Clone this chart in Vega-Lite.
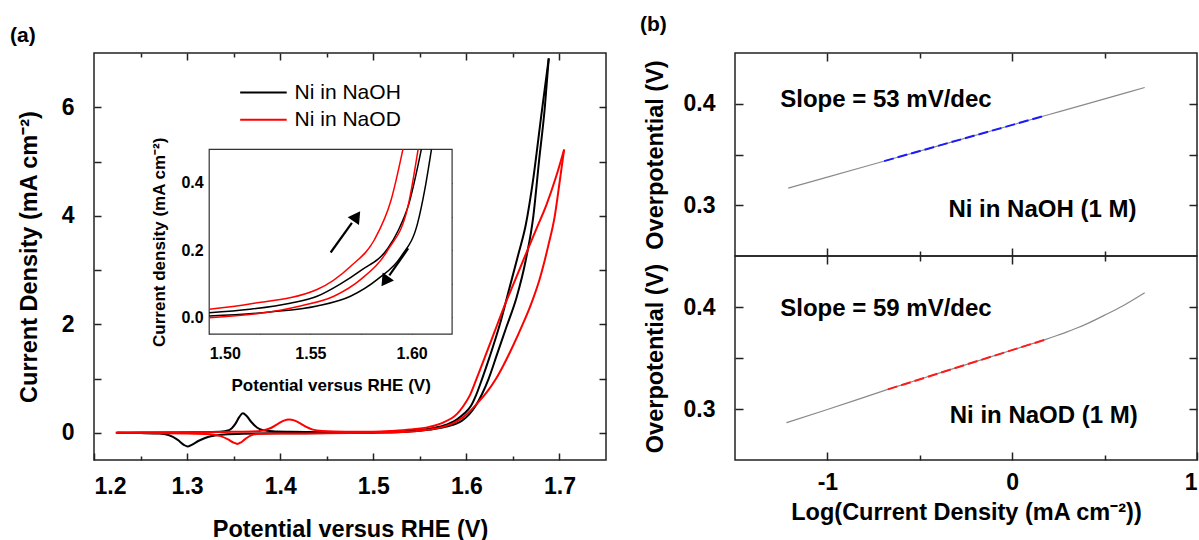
{
  "$schema": "https://vega.github.io/schema/vega-lite/v6.json",
  "background": "white",
  "padding": {"left": 9, "top": 13, "right": 0, "bottom": 0},
  "bounds": "flush",
  "spacing": 129,
  "config": {
    "font": "Liberation Sans",
    "view": {"stroke": "#222", "strokeWidth": 1.5},
    "axis": {"domain": false, "grid": false, "ticks": true, "zindex": 1, "tickColor": "#222", "tickWidth": 1.5, "labelColor": "#000", "titleColor": "#000", "labelFont": "Liberation Sans", "titleFont": "Liberation Sans", "labelFontWeight": "bold", "titleFontWeight": "bold"},
    "title": {"font": "Liberation Sans", "fontWeight": "bold", "fontSize": 21, "color": "#000", "anchor": "start", "frame": "group"}
  },
  "datasets": {
    "cv": [
      {"s":"NaOH","d":"f","E":1.225,"j":0},{"s":"NaOH","d":"f","E":1.25,"j":0.005},{"s":"NaOH","d":"f","E":1.28,"j":0.008},{"s":"NaOH","d":"f","E":1.31,"j":0.012},{"s":"NaOH","d":"f","E":1.335,"j":0.02},{"s":"NaOH","d":"f","E":1.345,"j":0.05},{"s":"NaOH","d":"f","E":1.352,"j":0.17},{"s":"NaOH","d":"f","E":1.356,"j":0.29},{"s":"NaOH","d":"f","E":1.3599,"j":0.36},{"s":"NaOH","d":"f","E":1.364,"j":0.31},{"s":"NaOH","d":"f","E":1.369,"j":0.2},{"s":"NaOH","d":"f","E":1.375,"j":0.1},{"s":"NaOH","d":"f","E":1.382,"j":0.05},{"s":"NaOH","d":"f","E":1.392,"j":0.03},{"s":"NaOH","d":"f","E":1.41,"j":0.02},{"s":"NaOH","d":"f","E":1.45,"j":0.012},{"s":"NaOH","d":"f","E":1.5,"j":0.012},{"s":"NaOH","d":"f","E":1.52,"j":0.022},{"s":"NaOH","d":"f","E":1.54,"j":0.04},{"s":"NaOH","d":"f","E":1.56,"j":0.075},{"s":"NaOH","d":"f","E":1.575,"j":0.13},{"s":"NaOH","d":"f","E":1.59,"j":0.25},{"s":"NaOH","d":"f","E":1.598,"j":0.36},{"s":"NaOH","d":"f","E":1.605,"j":0.5},{"s":"NaOH","d":"f","E":1.611,"j":0.72},{"s":"NaOH","d":"f","E":1.617,"j":1.0},{"s":"NaOH","d":"f","E":1.625,"j":1.4},{"s":"NaOH","d":"f","E":1.636,"j":2.0},{"s":"NaOH","d":"f","E":1.646,"j":2.65},{"s":"NaOH","d":"f","E":1.656,"j":3.3},{"s":"NaOH","d":"f","E":1.664,"j":3.85},{"s":"NaOH","d":"f","E":1.672,"j":4.7},{"s":"NaOH","d":"f","E":1.6805,"j":5.85},{"s":"NaOH","d":"f","E":1.6885,"j":6.9},
      {"s":"NaOH","d":"r","E":1.6885,"j":6.9},{"s":"NaOH","d":"r","E":1.6843,"j":6.0},{"s":"NaOH","d":"r","E":1.678,"j":5.0},{"s":"NaOH","d":"r","E":1.672,"j":4.0},{"s":"NaOH","d":"r","E":1.664,"j":3.2},{"s":"NaOH","d":"r","E":1.654,"j":2.5},{"s":"NaOH","d":"r","E":1.643,"j":1.95},{"s":"NaOH","d":"r","E":1.633,"j":1.45},{"s":"NaOH","d":"r","E":1.624,"j":1.0},{"s":"NaOH","d":"r","E":1.617,"j":0.72},{"s":"NaOH","d":"r","E":1.61,"j":0.5},{"s":"NaOH","d":"r","E":1.603,"j":0.34},{"s":"NaOH","d":"r","E":1.595,"j":0.22},{"s":"NaOH","d":"r","E":1.58,"j":0.12},{"s":"NaOH","d":"r","E":1.565,"j":0.07},{"s":"NaOH","d":"r","E":1.55,"j":0.04},{"s":"NaOH","d":"r","E":1.53,"j":0.018},{"s":"NaOH","d":"r","E":1.5,"j":0.004},{"s":"NaOH","d":"r","E":1.45,"j":-0.004},{"s":"NaOH","d":"r","E":1.4,"j":-0.008},{"s":"NaOH","d":"r","E":1.36,"j":-0.015},{"s":"NaOH","d":"r","E":1.34,"j":-0.03},{"s":"NaOH","d":"r","E":1.33,"j":-0.05},{"s":"NaOH","d":"r","E":1.32,"j":-0.09},{"s":"NaOH","d":"r","E":1.312,"j":-0.15},{"s":"NaOH","d":"r","E":1.305,"j":-0.22},{"s":"NaOH","d":"r","E":1.3006,"j":-0.252},{"s":"NaOH","d":"r","E":1.2965,"j":-0.22},{"s":"NaOH","d":"r","E":1.29,"j":-0.13},{"s":"NaOH","d":"r","E":1.28,"j":-0.04},{"s":"NaOH","d":"r","E":1.27,"j":-0.012},{"s":"NaOH","d":"r","E":1.25,"j":-0.004},{"s":"NaOH","d":"r","E":1.225,"j":0},
      {"s":"NaOD","d":"f","E":1.2234,"j":0},{"s":"NaOD","d":"f","E":1.26,"j":0.008},{"s":"NaOD","d":"f","E":1.3,"j":0.012},{"s":"NaOD","d":"f","E":1.34,"j":0.018},{"s":"NaOD","d":"f","E":1.37,"j":0.025},{"s":"NaOD","d":"f","E":1.38,"j":0.04},{"s":"NaOD","d":"f","E":1.39,"j":0.09},{"s":"NaOD","d":"f","E":1.398,"j":0.17},{"s":"NaOD","d":"f","E":1.404,"j":0.225},{"s":"NaOD","d":"f","E":1.4095,"j":0.245},{"s":"NaOD","d":"f","E":1.415,"j":0.23},{"s":"NaOD","d":"f","E":1.421,"j":0.18},{"s":"NaOD","d":"f","E":1.428,"j":0.11},{"s":"NaOD","d":"f","E":1.435,"j":0.06},{"s":"NaOD","d":"f","E":1.445,"j":0.035},{"s":"NaOD","d":"f","E":1.47,"j":0.022},{"s":"NaOD","d":"f","E":1.5,"j":0.022},{"s":"NaOD","d":"f","E":1.52,"j":0.035},{"s":"NaOD","d":"f","E":1.54,"j":0.06},{"s":"NaOD","d":"f","E":1.56,"j":0.11},{"s":"NaOD","d":"f","E":1.575,"j":0.19},{"s":"NaOD","d":"f","E":1.59,"j":0.35},{"s":"NaOD","d":"f","E":1.597,"j":0.5},{"s":"NaOD","d":"f","E":1.604,"j":0.7},{"s":"NaOD","d":"f","E":1.611,"j":1.0},{"s":"NaOD","d":"f","E":1.62,"j":1.4},{"s":"NaOD","d":"f","E":1.63,"j":1.85},{"s":"NaOD","d":"f","E":1.64,"j":2.3},{"s":"NaOD","d":"f","E":1.652,"j":2.8},{"s":"NaOD","d":"f","E":1.664,"j":3.3},{"s":"NaOD","d":"f","E":1.675,"j":3.75},{"s":"NaOD","d":"f","E":1.686,"j":4.2},{"s":"NaOD","d":"f","E":1.696,"j":4.7},{"s":"NaOD","d":"f","E":1.705,"j":5.22},
      {"s":"NaOD","d":"r","E":1.705,"j":5.22},{"s":"NaOD","d":"r","E":1.7,"j":4.6},{"s":"NaOD","d":"r","E":1.695,"j":4.0},{"s":"NaOD","d":"r","E":1.688,"j":3.45},{"s":"NaOD","d":"r","E":1.679,"j":2.85},{"s":"NaOD","d":"r","E":1.669,"j":2.35},{"s":"NaOD","d":"r","E":1.66,"j":1.98},{"s":"NaOD","d":"r","E":1.65,"j":1.6},{"s":"NaOD","d":"r","E":1.64,"j":1.25},{"s":"NaOD","d":"r","E":1.632,"j":1.0},{"s":"NaOD","d":"r","E":1.622,"j":0.75},{"s":"NaOD","d":"r","E":1.612,"j":0.55},{"s":"NaOD","d":"r","E":1.604,"j":0.4},{"s":"NaOD","d":"r","E":1.596,"j":0.28},{"s":"NaOD","d":"r","E":1.585,"j":0.17},{"s":"NaOD","d":"r","E":1.575,"j":0.11},{"s":"NaOD","d":"r","E":1.56,"j":0.06},{"s":"NaOD","d":"r","E":1.545,"j":0.03},{"s":"NaOD","d":"r","E":1.52,"j":0.01},{"s":"NaOD","d":"r","E":1.5,"j":0},{"s":"NaOD","d":"r","E":1.45,"j":-0.008},{"s":"NaOD","d":"r","E":1.4,"j":-0.012},{"s":"NaOD","d":"r","E":1.375,"j":-0.02},{"s":"NaOD","d":"r","E":1.368,"j":-0.05},{"s":"NaOD","d":"r","E":1.362,"j":-0.12},{"s":"NaOD","d":"r","E":1.3575,"j":-0.18},{"s":"NaOD","d":"r","E":1.354,"j":-0.203},{"s":"NaOD","d":"r","E":1.35,"j":-0.18},{"s":"NaOD","d":"r","E":1.344,"j":-0.12},{"s":"NaOD","d":"r","E":1.336,"j":-0.06},{"s":"NaOD","d":"r","E":1.325,"j":-0.025},{"s":"NaOD","d":"r","E":1.3,"j":-0.01},{"s":"NaOD","d":"r","E":1.26,"j":-0.004},{"s":"NaOD","d":"r","E":1.2234,"j":0}
    ],
    "inset": [
      {"s":"NaOH","d":"f","E":1.5,"j":0.014},{"s":"NaOH","d":"f","E":1.52,"j":0.024},{"s":"NaOH","d":"f","E":1.54,"j":0.042},{"s":"NaOH","d":"f","E":1.5533,"j":0.063},{"s":"NaOH","d":"f","E":1.5649,"j":0.1},{"s":"NaOH","d":"f","E":1.575,"j":0.14},{"s":"NaOH","d":"f","E":1.5882,"j":0.205},{"s":"NaOH","d":"f","E":1.5935,"j":0.26},{"s":"NaOH","d":"f","E":1.5985,"j":0.335},{"s":"NaOH","d":"f","E":1.6048,"j":0.5},
      {"s":"NaOH","d":"r","E":1.5,"j":0.004},{"s":"NaOH","d":"r","E":1.53,"j":0.016},{"s":"NaOH","d":"r","E":1.5533,"j":0.034},{"s":"NaOH","d":"r","E":1.5698,"j":0.063},{"s":"NaOH","d":"r","E":1.5831,"j":0.113},{"s":"NaOH","d":"r","E":1.5949,"j":0.182},{"s":"NaOH","d":"r","E":1.603,"j":0.281},{"s":"NaOH","d":"r","E":1.6065,"j":0.38},{"s":"NaOH","d":"r","E":1.6098,"j":0.5},
      {"s":"NaOD","d":"f","E":1.5,"j":0.024},{"s":"NaOD","d":"f","E":1.52,"j":0.04},{"s":"NaOD","d":"f","E":1.5533,"j":0.083},{"s":"NaOD","d":"f","E":1.5699,"j":0.152},{"s":"NaOD","d":"f","E":1.5816,"j":0.231},{"s":"NaOD","d":"f","E":1.5899,"j":0.35},{"s":"NaOD","d":"f","E":1.5957,"j":0.5},
      {"s":"NaOD","d":"r","E":1.5,"j":-0.001},{"s":"NaOD","d":"r","E":1.525,"j":0.012},{"s":"NaOD","d":"r","E":1.545,"j":0.034},{"s":"NaOD","d":"r","E":1.5616,"j":0.063},{"s":"NaOD","d":"r","E":1.5749,"j":0.113},{"s":"NaOD","d":"r","E":1.5882,"j":0.2},{"s":"NaOD","d":"r","E":1.5982,"j":0.33},{"s":"NaOD","d":"r","E":1.6032,"j":0.5}
    ],
    "tafelH": [
      {"L":-1.212,"eta":0.3168},{"L":-1.0,"eta":0.3277},{"L":-0.7,"eta":0.3431},{"L":-0.4,"eta":0.3585},{"L":0.0,"eta":0.3791},{"L":0.2,"eta":0.3894},{"L":0.4,"eta":0.3997},{"L":0.717,"eta":0.416}
    ],
    "fitH": [{"L":-0.693,"eta":0.3435},{"L":0.178,"eta":0.3883}],
    "tafelD": [
      {"L":-1.222,"eta":0.2865},{"L":-1.0,"eta":0.2995},{"L":-0.673,"eta":0.3192},{"L":-0.4,"eta":0.3349},{"L":0.0,"eta":0.3578},{"L":0.178,"eta":0.368},{"L":0.25,"eta":0.3725},{"L":0.3,"eta":0.3758},{"L":0.35,"eta":0.3794},{"L":0.4,"eta":0.3832},{"L":0.5,"eta":0.392},{"L":0.6,"eta":0.4013},{"L":0.717,"eta":0.414}
    ],
    "fitD": [{"L":-0.673,"eta":0.3192},{"L":0.178,"eta":0.368}]
  },
  "hconcat": [
    {
      "width": 512,
      "height": 407,
      "title": {"text": "(a)", "dx": -84, "offset": 6},
      "layer": [
        {
          "data": {"name": "cv"},
          "mark": {"type": "line", "strokeWidth": 2, "interpolate": "monotone"},
          "encoding": {
            "x": {"field": "E", "type": "quantitative", "scale": {"domain": [1.2, 1.75], "nice": false, "zero": false},
              "axis": {"orient": "bottom", "offset": -7, "tickSize": 7, "values": [1.2,1.3,1.4,1.5,1.6,1.7], "format": ".1f", "labelPadding": 15.5, "labelFontSize": 23, "title": "Potential versus RHE (V)", "titleFontSize": 23.5, "titlePadding": 18.5}},
            "y": {"field": "j", "type": "quantitative", "scale": {"domain": [-0.5, 7], "nice": false, "zero": false},
              "axis": {"orient": "left", "offset": -7, "tickSize": 7, "values": [0,1,2,3,4,5,6], "labelExpr": "datum.value % 2 == 0 ? datum.label : ''", "labelPadding": 20, "labelFontSize": 23, "title": "Current Density (mA cm⁻²)", "titleFontSize": 23.5, "titlePadding": 20}},
            "color": {"field": "s", "type": "nominal", "scale": {"domain": ["NaOH", "NaOD"], "range": ["#000000", "#ff0000"]}, "legend": null},
            "detail": {"field": "d", "type": "nominal"}
          }
        },
        {
          "data": {"name": "cv"},
          "mark": {"type": "point", "opacity": 0},
          "encoding": {
            "x": {"field": "E", "type": "quantitative", "scale": {"domain": [1.2, 1.75], "nice": false, "zero": false},
              "axis": {"orient": "top", "offset": -7, "tickSize": 7, "values": [1.3,1.4,1.5,1.6,1.7], "labels": false, "title": null}},
            "y": {"field": "j", "type": "quantitative", "scale": {"domain": [-0.5, 7], "nice": false, "zero": false},
              "axis": {"orient": "right", "offset": -7, "tickSize": 7, "values": [0,1,2,3,4,5,6], "labels": false, "title": null}}
          }
        },
        {
          "data": {"name": "cv"},
          "mark": {"type": "point", "opacity": 0},
          "encoding": {
            "x": {"field": "E", "type": "quantitative", "scale": {"domain": [1.2, 1.75], "nice": false, "zero": false},
              "axis": {"orient": "bottom", "offset": -4, "tickSize": 4, "values": [1.25,1.35,1.45,1.55,1.65], "labels": false, "title": null}},
            "y": {"field": "j", "type": "quantitative", "scale": {"domain": [-0.5, 7], "nice": false, "zero": false}, "axis": null}
          }
        },
        {
          "data": {"name": "cv"},
          "mark": {"type": "point", "opacity": 0},
          "encoding": {
            "x": {"field": "E", "type": "quantitative", "scale": {"domain": [1.2, 1.75], "nice": false, "zero": false},
              "axis": {"orient": "top", "offset": -4, "tickSize": 4, "values": [1.25,1.35,1.45,1.55,1.65], "labels": false, "title": null}},
            "y": {"field": "j", "type": "quantitative", "scale": {"domain": [-0.5, 7], "nice": false, "zero": false}, "axis": null}
          }
        },
        {
          "data": {"values": [
            {"s": "NaOH", "x1": 1.357, "x2": 1.407, "xt": 1.4155, "y": 6.27, "label": "Ni in NaOH"},
            {"s": "NaOD", "x1": 1.357, "x2": 1.407, "xt": 1.4155, "y": 5.77, "label": "Ni in NaOD"}
          ]},
          "layer": [
            {"mark": {"type": "rule", "strokeWidth": 2},
             "encoding": {
               "x": {"field": "x1", "type": "quantitative", "scale": {"domain": [1.2, 1.75], "nice": false, "zero": false}, "axis": null},
               "x2": {"field": "x2"},
               "y": {"field": "y", "type": "quantitative", "scale": {"domain": [-0.5, 7], "nice": false, "zero": false}, "axis": null},
               "color": {"field": "s", "type": "nominal", "scale": {"domain": ["NaOH", "NaOD"], "range": ["#000000", "#ff0000"]}, "legend": null}
             }},
            {"mark": {"type": "text", "align": "left", "baseline": "middle", "fontSize": 21, "font": "Liberation Sans", "color": "#000"},
             "encoding": {
               "x": {"field": "xt", "type": "quantitative", "scale": {"domain": [1.2, 1.75], "nice": false, "zero": false}, "axis": null},
               "y": {"field": "y", "type": "quantitative", "scale": {"domain": [-0.5, 7], "nice": false, "zero": false}, "axis": null},
               "text": {"field": "label"}
             }}
          ],
          "resolve": {"scale": {"x": "shared", "y": "shared"}}
        },
        {
          "data": {"values": [{"x1": 1.5, "x2": 1.62, "y1": -0.05, "y2": 0.5}]},
          "mark": {"type": "rect", "fill": "white", "stroke": "#333", "strokeWidth": 1.2},
          "encoding": {
            "x": {"field": "x1", "type": "quantitative", "scale": {"domain": [1.5, 1.62], "range": [115.2, 358.1], "nice": false, "zero": false}, "axis": null},
            "x2": {"field": "x2"},
            "y": {"field": "y1", "type": "quantitative", "scale": {"domain": [-0.05, 0.5], "range": [281.2, 96.3], "nice": false, "zero": false}, "axis": null},
            "y2": {"field": "y2"}
          }
        },
        {
          "data": {"name": "inset"},
          "mark": {"type": "line", "strokeWidth": 1.5, "interpolate": "monotone"},
          "encoding": {
            "x": {"field": "E", "type": "quantitative", "scale": {"domain": [1.5, 1.62], "range": [115.2, 358.1], "nice": false, "zero": false},
              "axis": {"orient": "bottom", "offset": -129.8, "tickSize": 4, "tickWidth": 1, "values": [1.5,1.525,1.55,1.575,1.6], "labelExpr": "abs(datum.value*20 - round(datum.value*20)) < 0.001 ? format(datum.value, '.2f') : ''", "labelPadding": 11.5, "labelFontSize": 16, "title": "Potential versus RHE (V)", "titleFontSize": 17, "titlePadding": 16}},
            "y": {"field": "j", "type": "quantitative", "scale": {"domain": [-0.05, 0.5], "range": [281.2, 96.3], "nice": false, "zero": false},
              "axis": {"orient": "left", "offset": -119.2, "tickSize": 4, "tickWidth": 1, "values": [0,0.1,0.2,0.3,0.4], "labelExpr": "datum.value == 0 || abs(datum.value - 0.2) < 0.001 || abs(datum.value - 0.4) < 0.001 ? format(datum.value, '.1f') : ''", "labelPadding": 6, "labelFontSize": 16, "title": "Current density (mA cm⁻²)", "titleFontSize": 17, "titlePadding": 12}},
            "color": {"field": "s", "type": "nominal", "scale": {"domain": ["NaOH", "NaOD"], "range": ["#000000", "#ff0000"]}, "legend": null},
            "detail": {"field": "d", "type": "nominal"}
          }
        },
        {
          "data": {"name": "inset"},
          "mark": {"type": "point", "opacity": 0},
          "encoding": {
            "x": {"field": "E", "type": "quantitative", "scale": {"domain": [1.5, 1.62], "range": [115.2, 358.1], "nice": false, "zero": false}, "axis": null},
            "y": {"field": "j", "type": "quantitative", "scale": {"domain": [-0.05, 0.5], "range": [281.2, 96.3], "nice": false, "zero": false},
              "axis": {"orient": "right", "offset": -157.9, "tickSize": 4, "tickWidth": 1, "values": [0,0.1,0.2,0.3,0.4], "labels": false, "title": null}}
          }
        },
        {
          "data": {"values": [
            {"x1": 1.560, "y1": 0.193, "x2": 1.5705, "y2": 0.281, "hx": 1.5729, "hy": 0.301, "shape": "triangle-up"},
            {"x1": 1.5983, "y1": 0.205, "x2": 1.589, "y2": 0.125, "hx": 1.5868, "hy": 0.107, "shape": "triangle-down"}
          ]},
          "layer": [
            {"mark": {"type": "rule", "strokeWidth": 2.2, "color": "#000"},
             "encoding": {
               "x": {"field": "x1", "type": "quantitative", "scale": {"domain": [1.5, 1.62], "range": [115.2, 358.1], "nice": false, "zero": false}, "axis": null},
               "x2": {"field": "x2"},
               "y": {"field": "y1", "type": "quantitative", "scale": {"domain": [-0.05, 0.5], "range": [281.2, 96.3], "nice": false, "zero": false}, "axis": null},
               "y2": {"field": "y2"}
             }},
            {"mark": {"type": "point", "filled": true, "color": "#000", "opacity": 1, "size": 190, "angle": 35},
             "encoding": {
               "x": {"field": "hx", "type": "quantitative", "scale": {"domain": [1.5, 1.62], "range": [115.2, 358.1], "nice": false, "zero": false}, "axis": null},
               "y": {"field": "hy", "type": "quantitative", "scale": {"domain": [-0.05, 0.5], "range": [281.2, 96.3], "nice": false, "zero": false}, "axis": null},
               "shape": {"field": "shape", "type": "nominal", "scale": null}
             }}
          ],
          "resolve": {"scale": {"x": "shared", "y": "shared"}}
        }
      ],
      "resolve": {"scale": {"x": "independent", "y": "independent", "color": "independent"}, "axis": {"x": "independent", "y": "independent"}}
    },
    {
      "title": {"text": "(b)", "dx": -95, "offset": 17},
      "spacing": 0,
      "bounds": "flush",
      "vconcat": [
        {
          "width": 462,
          "height": 203,
          "layer": [
            {
              "data": {"name": "tafelH"},
              "mark": {"type": "line", "color": "#8a8a8a", "strokeWidth": 1.2, "interpolate": "monotone"},
              "encoding": {
                "x": {"field": "L", "type": "quantitative", "scale": {"domain": [-1.5, 1.0], "nice": false, "zero": false},
                  "axis": {"orient": "bottom", "offset": -8, "tickSize": 8, "values": [-1, 0], "labels": false, "title": null}},
                "y": {"field": "eta", "type": "quantitative", "scale": {"domain": [0.25, 0.45], "nice": false, "zero": false},
                  "axis": {"orient": "left", "offset": -8, "tickSize": 8, "values": [0.3, 0.35, 0.4], "labelExpr": "abs(datum.value - 0.35) < 0.001 ? '' : format(datum.value, '.1f')", "labelPadding": 20, "labelFontSize": 23, "title": "Overpotential (V)", "titleFontSize": 23.5, "titlePadding": 16}}
              }
            },
            {
              "data": {"name": "fitH"},
              "mark": {"type": "line", "color": "#1a1aff", "strokeWidth": 2, "strokeDash": [10, 4]},
              "encoding": {
                "x": {"field": "L", "type": "quantitative", "scale": {"domain": [-1.5, 1.0], "nice": false, "zero": false},
                  "axis": {"orient": "top", "offset": -8, "tickSize": 8, "values": [-1, 0], "labels": false, "title": null}},
                "y": {"field": "eta", "type": "quantitative", "scale": {"domain": [0.25, 0.45], "nice": false, "zero": false},
                  "axis": {"orient": "right", "offset": -8, "tickSize": 8, "values": [0.3, 0.35, 0.4], "labels": false, "title": null}}
              }
            },
            {
              "data": {"name": "fitH"},
              "mark": {"type": "point", "opacity": 0},
              "encoding": {
                "x": {"field": "L", "type": "quantitative", "scale": {"domain": [-1.5, 1.0], "nice": false, "zero": false},
                  "axis": {"orient": "bottom", "offset": -5, "tickSize": 5, "values": [-0.5, 0.5], "labels": false, "title": null}},
                "y": {"field": "eta", "type": "quantitative", "scale": {"domain": [0.25, 0.45], "nice": false, "zero": false}, "axis": null}
              }
            },
            {
              "data": {"name": "fitH"},
              "mark": {"type": "point", "opacity": 0},
              "encoding": {
                "x": {"field": "L", "type": "quantitative", "scale": {"domain": [-1.5, 1.0], "nice": false, "zero": false},
                  "axis": {"orient": "top", "offset": -5, "tickSize": 5, "values": [-0.5, 0.5], "labels": false, "title": null}},
                "y": {"field": "eta", "type": "quantitative", "scale": {"domain": [0.25, 0.45], "nice": false, "zero": false}, "axis": null}
              }
            },
            {
              "data": {"values": [
                {"L": -1.255, "eta": 0.4038, "t": "Slope = 53 mV/dec"},
                {"L": -0.345, "eta": 0.2956, "t": "Ni in NaOH (1 M)"}
              ]},
              "mark": {"type": "text", "align": "left", "baseline": "middle", "fontSize": 24, "fontWeight": "bold", "font": "Liberation Sans", "color": "#000"},
              "encoding": {
                "x": {"field": "L", "type": "quantitative", "scale": {"domain": [-1.5, 1.0], "nice": false, "zero": false}, "axis": null},
                "y": {"field": "eta", "type": "quantitative", "scale": {"domain": [0.25, 0.45], "nice": false, "zero": false}, "axis": null},
                "text": {"field": "t"}
              }
            }
          ],
          "resolve": {"axis": {"x": "independent", "y": "independent"}}
        },
        {
          "width": 462,
          "height": 204,
          "layer": [
            {
              "data": {"name": "tafelD"},
              "mark": {"type": "line", "color": "#8a8a8a", "strokeWidth": 1.2, "interpolate": "monotone"},
              "encoding": {
                "x": {"field": "L", "type": "quantitative", "scale": {"domain": [-1.5, 1.0], "nice": false, "zero": false},
                  "axis": {"orient": "bottom", "offset": -8, "tickSize": 8, "values": [-1, 0, 1], "labelExpr": "datum.value == -1 ? '-1' : datum.value == 0 ? '0' : '1'", "labelPadding": 11, "labelFontSize": 23, "title": "Log(Current Density (mA cm⁻²))", "titleFontSize": 23.5, "titlePadding": 6}},
                "y": {"field": "eta", "type": "quantitative", "scale": {"domain": [0.25, 0.45], "nice": false, "zero": false},
                  "axis": {"orient": "left", "offset": -8, "tickSize": 8, "values": [0.3, 0.35, 0.4], "labelExpr": "abs(datum.value - 0.35) < 0.001 ? '' : format(datum.value, '.1f')", "labelPadding": 20, "labelFontSize": 23, "title": "Overpotential (V)", "titleFontSize": 23.5, "titlePadding": 16}}
              }
            },
            {
              "data": {"name": "fitD"},
              "mark": {"type": "line", "color": "#ff1a1a", "strokeWidth": 2, "strokeDash": [10, 4]},
              "encoding": {
                "x": {"field": "L", "type": "quantitative", "scale": {"domain": [-1.5, 1.0], "nice": false, "zero": false},
                  "axis": {"orient": "top", "offset": -8, "tickSize": 8, "values": [-1, 0], "labels": false, "title": null}},
                "y": {"field": "eta", "type": "quantitative", "scale": {"domain": [0.25, 0.45], "nice": false, "zero": false},
                  "axis": {"orient": "right", "offset": -8, "tickSize": 8, "values": [0.3, 0.35, 0.4], "labels": false, "title": null}}
              }
            },
            {
              "data": {"name": "fitD"},
              "mark": {"type": "point", "opacity": 0},
              "encoding": {
                "x": {"field": "L", "type": "quantitative", "scale": {"domain": [-1.5, 1.0], "nice": false, "zero": false},
                  "axis": {"orient": "bottom", "offset": -5, "tickSize": 5, "values": [-0.5, 0.5], "labels": false, "title": null}},
                "y": {"field": "eta", "type": "quantitative", "scale": {"domain": [0.25, 0.45], "nice": false, "zero": false}, "axis": null}
              }
            },
            {
              "data": {"name": "fitD"},
              "mark": {"type": "point", "opacity": 0},
              "encoding": {
                "x": {"field": "L", "type": "quantitative", "scale": {"domain": [-1.5, 1.0], "nice": false, "zero": false},
                  "axis": {"orient": "top", "offset": -5, "tickSize": 5, "values": [-0.5, 0.5], "labels": false, "title": null}},
                "y": {"field": "eta", "type": "quantitative", "scale": {"domain": [0.25, 0.45], "nice": false, "zero": false}, "axis": null}
              }
            },
            {
              "data": {"values": [
                {"L": -1.255, "eta": 0.398, "t": "Slope = 59 mV/dec"},
                {"L": -0.338, "eta": 0.2933, "t": "Ni in NaOD (1 M)"}
              ]},
              "mark": {"type": "text", "align": "left", "baseline": "middle", "fontSize": 24, "fontWeight": "bold", "font": "Liberation Sans", "color": "#000"},
              "encoding": {
                "x": {"field": "L", "type": "quantitative", "scale": {"domain": [-1.5, 1.0], "nice": false, "zero": false}, "axis": null},
                "y": {"field": "eta", "type": "quantitative", "scale": {"domain": [0.25, 0.45], "nice": false, "zero": false}, "axis": null},
                "text": {"field": "t"}
              }
            }
          ],
          "resolve": {"axis": {"x": "independent", "y": "independent"}}
        }
      ]
    }
  ]
}
